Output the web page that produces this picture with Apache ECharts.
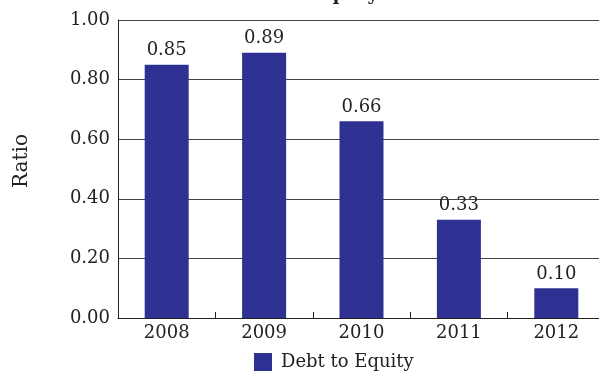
<!DOCTYPE html>
<html><head><meta charset="utf-8">
<script src="https://cdn.jsdelivr.net/npm/echarts@6/dist/echarts.min.js"></script>
<style>html,body{margin:0;padding:0;background:#fff;overflow:hidden}#c{width:605px;height:372px}</style>
</head><body><div id="c"></div>
<script>
const categories = ['2008','2009','2010','2011','2012'];
const debtToEquity = [0.85, 0.89, 0.66, 0.33, 0.10];
const yTicks = [0, 0.2, 0.4, 0.6, 0.8, 1.0];
const seriesName = 'Debt to Equity';
const yName = 'Ratio';
const font = 'DejaVu Serif';
const chart = echarts.init(document.getElementById('c'));
chart.setOption({
  animation: false,
  title: { text: seriesName, left: 300, textAlign: 'center', top: -19, textStyle: { fontFamily: font, fontSize: 18, fontWeight: 'bold', color: '#222' } },
  grid: { left: 118, right: 0, top: 20, height: 298 },
  legend: { top: 348, left: 249, itemWidth: 18, itemHeight: 18, itemGap: 10, icon: 'rect',
    textStyle: { fontFamily: font, fontSize: 18, color: '#222', padding: [0,0,0,4] }, data: [seriesName] },
  graphic: [{ type: 'text', x: 22, y: 161, rotation: Math.PI / 2,
    style: { text: yName, font: '20px "DejaVu Serif"', fill: '#222', align: 'center', verticalAlign: 'middle' } }],
  xAxis: { type: 'category', data: categories,
    axisLine: { lineStyle: { color: '#222', width: 1 } },
    axisTick: { show: true, inside: true, length: 6, lineStyle: { color: '#222' } },
    axisLabel: { fontFamily: font, fontSize: 18, color: '#222', margin: 6 } },
  yAxis: { type: 'value', min: 0, max: 1, interval: 0.2,
    axisLine: { show: true, lineStyle: { color: '#222' } },
    axisTick: { show: false },
    splitLine: { show: true, lineStyle: { color: '#444', width: 1 } },
    axisLabel: { fontFamily: font, fontSize: 18, color: '#222', margin: 8,
      formatter: v => v.toFixed(2) } },
  series: [{ name: seriesName, type: 'bar', data: debtToEquity, barWidth: 44,
    itemStyle: { color: '#2E3192' },
    label: { show: true, position: 'top', distance: 5, fontFamily: font, fontSize: 18, color: '#222',
      formatter: p => p.value.toFixed(2) } }]
});
</script></body></html>
